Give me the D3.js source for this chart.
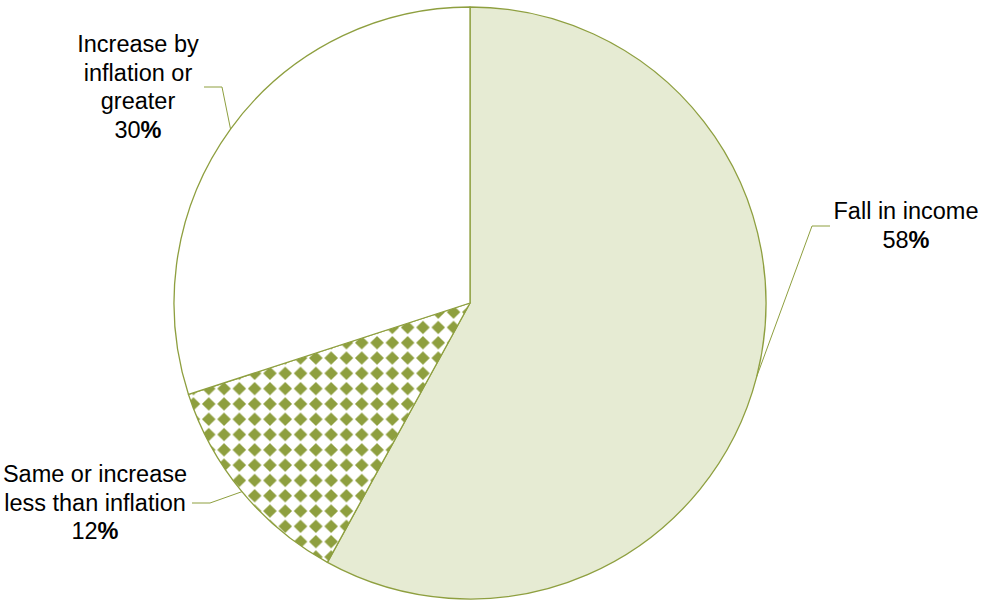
<!DOCTYPE html>
<html>
<head>
<meta charset="utf-8">
<script src="https://cdn.jsdelivr.net/npm/d3@7"></script>
<style>
  body { margin: 0; background: #fff; }
  svg text { font-family: "Liberation Sans", Arial, sans-serif; font-size: 23.5px; fill: #000; }
</style>
</head>
<body>
<div id="chart"></div>
<script>
// data
const categories = ["Fall in income", "Same or increase less than inflation", "Increase by inflation or greater"];
const values = [58, 12, 30];
const labelLines = [
  ["Fall in income"],
  ["Same or increase", "less than inflation"],
  ["Increase by", "inflation or", "greater"]
];

let width = 981,
  height = 601;

let cx = 470, cy = 303, r = 296;
let green = "#8e9f3f";

// where each label sits (text centre x, first baseline y) and the elbow of its leader
let labelLayout = [
  { x: 906, y: 219, elbow: [812, 226], end: [830, 226] },
  { x: 95, y: 482, elbow: [210, 503], end: [192, 503] },
  { x: 138, y: 52, elbow: [222, 87], end: [204, 87] }
];
let lineH = 28.6;

let svg = d3.select("#chart")
  .append("svg")
  .attr("width", width)
  .attr("height", height);

// diamond check pattern
let cell = 15.3, half = cell / 2;
let defs = svg.append("defs");
let pat = defs.append("pattern")
  .attr("id", "diamonds")
  .attr("patternUnits", "userSpaceOnUse")
  .attr("x", 6.5)
  .attr("y", 1.5)
  .attr("width", cell)
  .attr("height", cell);
pat.append("rect").attr("width", cell).attr("height", cell).attr("fill", "#fff");
pat.append("path")
  .attr("d", `M${half},0.9 L${cell - 0.9},${half} L${half},${cell - 0.9} L0.9,${half} Z`)
  .attr("fill", green);

let fills = ["#e6ebd3", "url(#diamonds)", "#fff"];

let pie = d3.pie().sort(null).value(d => d);
let arcs = pie(values);

let arc = d3.arc().innerRadius(0).outerRadius(r);
let edge = d3.arc().innerRadius(r).outerRadius(r);

let g = svg.append("g")
  .attr("transform", `translate(${cx},${cy})`);

g.selectAll("path.slice")
  .data(arcs)
  .join("path")
  .attr("class", "slice")
  .attr("d", arc)
  .attr("fill", (d, i) => fills[i])
  .attr("stroke", green)
  .attr("stroke-width", 1.3)
  .attr("stroke-linejoin", "round");

// leader lines
svg.selectAll("polyline.leader")
  .data(arcs)
  .join("polyline")
  .attr("class", "leader")
  .attr("fill", "none")
  .attr("stroke", green)
  .attr("stroke-width", 1)
  .attr("points", (d, i) => {
    let c = edge.centroid(d);
    let L = labelLayout[i];
    return [[cx + c[0], cy + c[1]], L.elbow, L.end].map(p => p.join(",")).join(" ");
  });

// labels
arcs.forEach((d, i) => {
  let L = labelLayout[i];
  let t = svg.append("text")
    .attr("text-anchor", "middle");
  labelLines[i].forEach((line, j) => {
    t.append("tspan")
      .attr("x", L.x)
      .attr("y", L.y + j * lineH)
      .text(line);
  });
  let last = t.append("tspan")
    .attr("x", L.x)
    .attr("y", L.y + labelLines[i].length * lineH);
  last.append("tspan").text(values[i]);
  last.append("tspan").attr("font-weight", "bold").text("%");
});
</script>
</body>
</html>
